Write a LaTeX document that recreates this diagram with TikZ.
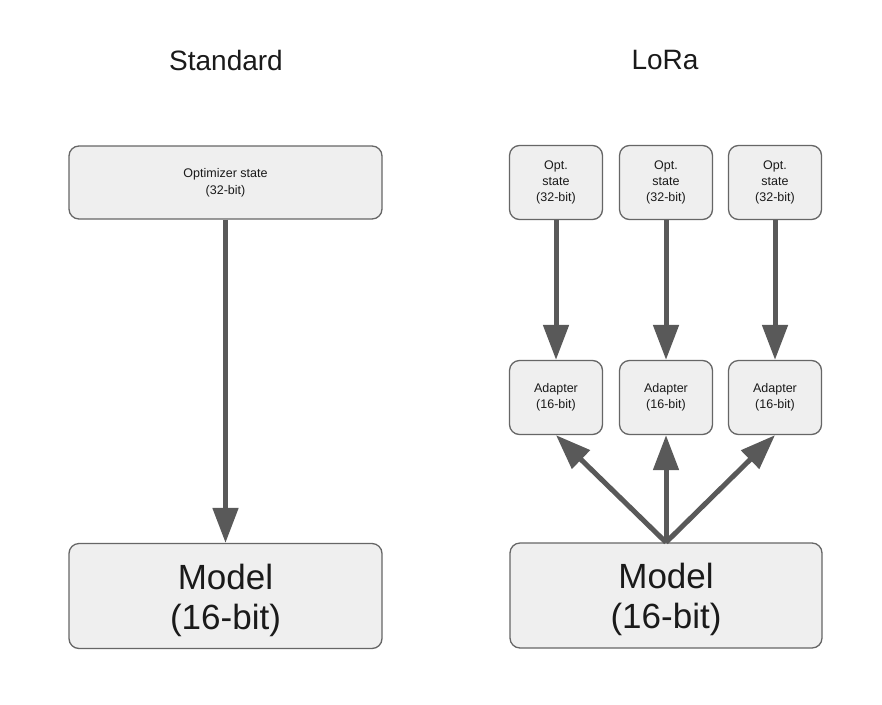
\documentclass[tikz,border=0pt]{standalone}
\usepackage{fontspec}
\setmainfont{Liberation Sans}
\usetikzlibrary{arrows.meta}
\definecolor{boxfill}{HTML}{EFEFEF}
\definecolor{boxline}{HTML}{666666}
\definecolor{arrcol}{HTML}{595959}
\definecolor{txt}{HTML}{1A1A1A}
\tikzset{
  box/.style={draw=boxline, fill=boxfill, line width=1.3pt, rounded corners=10pt,
    align=center, inner sep=0pt, text=txt},
  smallbox/.style={box, minimum width=93pt, minimum height=74pt,
    font=\fontsize{12.5}{16}\selectfont},
  widebox/.style={box, minimum width=313pt, minimum height=73pt,
    font=\fontsize{12.5}{17}\selectfont},
  modelbox/.style={box, minimum width=313pt, minimum height=105pt,
    font=\fontsize{35}{40}\selectfont},
  title/.style={font=\fontsize{28}{32}\selectfont, text=txt, inner sep=0pt},
  arr/.style={draw=arrcol, line width=5pt,
    -{Triangle[length=35pt, width=25pt]}},
}
\begin{document}
\begin{tikzpicture}[x=1pt, y=-1pt]
\useasboundingbox[fill=white] (0,0) rectangle (882,704);

\node[title] (tS) at (226,60) {Standard};
\node[title] (tL) at (665,60) {LoRa};

\node[widebox] (opt) at (225.5,182.5) {Optimizer state\\(32-bit)};
\node[modelbox] (mS) at (225.5,596) {\rule{0pt}{34pt}Model\\(16-bit)};

\node[smallbox] (o1) at (556,182.5) {Opt.\\state\\(32-bit)};
\node[smallbox] (o2) at (666,182.5) {Opt.\\state\\(32-bit)};
\node[smallbox] (o3) at (775,182.5) {Opt.\\state\\(32-bit)};

\node[smallbox] (a1) at (556,397.5) {Adapter\\(16-bit)};
\node[smallbox] (a2) at (666,397.5) {Adapter\\(16-bit)};
\node[smallbox] (a3) at (775,397.5) {Adapter\\(16-bit)};

\node[modelbox, minimum width=312pt] (mL) at (666,595.5) {\rule{0pt}{34pt}Model\\(16-bit)};

\draw[arr] (opt) -- (mS);
\draw[arr] (o1) -- (a1);
\draw[arr] (o2) -- (a2);
\draw[arr] (o3) -- (a3);
\draw[arr] (mL.north) -- (a1.south);
\draw[arr] (mL.north) -- (a2.south);
\draw[arr] (mL.north) -- (a3.south);
\end{tikzpicture}
\end{document}
